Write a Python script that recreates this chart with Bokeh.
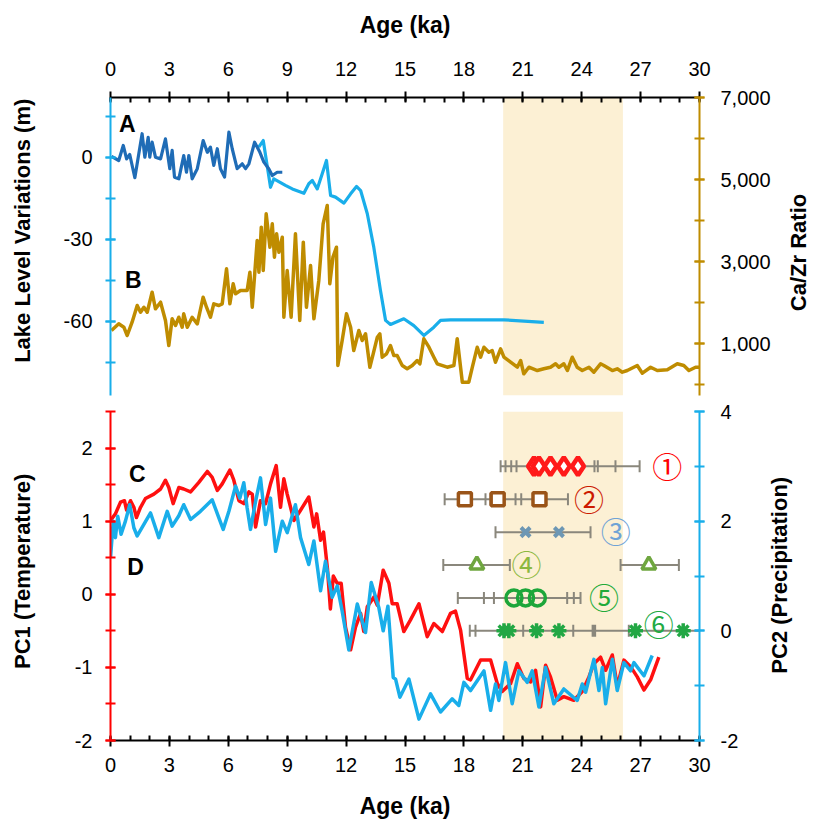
import math
from bokeh.plotting import figure
from bokeh.models import Range1d, LinearAxis, FixedTicker, Label, BoxAnnotation, ColumnDataSource
from bokeh.layouts import column, row
from bokeh.embed import file_html
from bokeh.resources import INLINE
from bokeh.core.properties import value

# ---------------- data ----------------
# A: lake level variations (m), two reconstructions
lake_dark_age = [0.05, 0.42, 0.65, 0.82, 0.98, 1.24, 1.61, 1.75, 1.92, 2.0, 2.12, 2.29, 2.55, 2.80, 3.02, 3.14,
                 3.26, 3.48, 3.73, 3.87, 3.99, 4.16, 4.42, 4.72, 4.93, 5.09, 5.26, 5.44, 5.60, 5.81, 6.03, 6.20,
                 6.45, 6.71, 6.88, 7.05, 7.34, 7.61, 7.81, 8.06, 8.24, 8.49, 8.75]
lake_dark_m = [0.4, -1.1, 4.4, -0.5, 1.1, -7.4, 8.7, 0.1, 7.4, 0.1, 5.6, 0.1, -0.5, 6.8, -4.1, 2.6,
               -7.2, -7.8, 0.7, -5.4, 0.7, -7.8, -4.1, 6.2, 1.9, 3.8, -2.9, 3.2, -4.1, -7.2, 9.3, 3.2,
               -4.1, -2.3, -4.1, -2.3, 5.6, 1.9, -1.7, -4.1, -6.6, -5.4, -5.4]
lake_light_age = [7.55, 7.78, 8.15, 8.32, 8.91, 9.26, 9.85, 10.1, 10.28, 10.53, 10.78, 11.0, 11.21, 11.46,
                  11.89, 12.23, 12.53, 12.74, 13.08, 13.41, 13.75, 14.01, 14.26, 14.94, 15.45, 15.96, 16.47,
                  16.81, 17.32, 20.04, 22.07]
lake_light_m = [3.8, 6.2, -10.9, -7.8, -10.2, -11.5, -13.1, -9.6, -8.4, -11.5, -6.0, -1.1, -13.9, -14.5,
                -16.7, -13.3, -10.6, -12.1, -20.6, -32.8, -48.7, -59.6, -61.1, -59.0, -61.5, -65.1, -62.1,
                -59.6, -59.4, -59.4, -60.3]

# B: Ca/Zr ratio
cazr_age = [0.05, 0.42, 0.68, 0.85, 1.1, 1.36, 1.53, 1.70, 1.87, 2.12, 2.29, 2.55, 2.8, 2.97, 3.14, 3.31,
            3.48, 3.65, 3.73, 3.91, 4.16, 4.42, 4.72, 4.89, 5.09, 5.26, 5.52, 5.69, 5.91, 6.08, 6.25, 6.37,
            6.62, 6.96, 7.1, 7.22, 7.47, 7.56, 7.68, 7.78, 7.93, 8.12, 8.24, 8.35, 8.46, 8.58, 8.75, 8.83,
            9.0, 9.2, 9.42, 9.64, 9.82, 9.98, 10.19, 10.36, 10.61, 10.83, 11.04, 11.17, 11.33, 11.51, 11.58,
            11.80, 12.02, 12.23, 12.39, 12.65, 12.82, 12.99, 13.21, 13.38, 13.59, 13.72, 13.84, 14.06, 14.26,
            14.43, 14.6, 14.86, 15.11, 15.37, 15.62, 15.76, 15.96, 16.22, 16.47, 16.64, 17.15, 17.49, 17.66,
            17.92, 18.25, 18.43, 18.68, 18.85, 19.02, 19.27, 19.44, 19.61, 19.87, 20.04, 20.38, 20.72, 20.89,
            21.05, 21.31, 21.74, 22.07, 22.41, 22.67, 22.84, 23.09, 23.27, 23.52, 23.77, 24.03, 24.37, 24.62,
            24.96, 25.13, 25.56, 25.81, 26.07, 26.32, 26.83, 27.09, 27.51, 27.85, 28.36, 28.87, 29.2, 29.46,
            29.8, 30.0]
cazr_val = [1317, 1480, 1398, 1195, 1520, 1927, 1763, 1885, 1763, 2251, 1846, 2007, 1561, 951, 1602, 1439,
            1641, 1398, 1724, 1398, 1641, 1480, 2129, 1885, 1641, 1968, 1927, 1968, 2821, 1968, 2456, 2212,
            2293, 2293, 2740, 1885, 3512, 2740, 3837, 2780, 4163, 3349, 3919, 3105, 3675, 3227, 3593, 1641,
            2780, 1641, 3675, 1561, 3471, 1885, 2902, 1602, 2537, 3919, 4366, 2456, 3105, 3349, 463,
            1073, 1724, 1398, 829, 1317, 1073, 1236, 422, 749, 1154, 1236, 666, 749, 951,
            707, 707, 463, 383, 463, 585, 505, 1115, 910, 666, 505, 422, 463, 1115,
            56, 56, 422, 910, 666, 910, 788, 829, 544, 871, 666, 544, 422, 585,
            261, 422, 341, 383, 422, 505, 422, 505, 341, 666, 422, 341, 422, 300,
            505, 463, 341, 383, 300, 341, 463, 276, 422, 341, 359, 505, 463, 341,
            422, 422]

# C: PC1 (temperature)
pc1_age = [0.0, 0.25, 0.51, 0.71, 0.82, 1.02, 1.19, 1.32, 1.53, 1.78, 2.21, 2.55, 2.80, 2.97, 3.19, 3.48,
           3.73, 4.08, 4.50, 4.93, 5.18, 5.44, 5.69, 6.08, 6.28, 6.54, 6.79, 7.05, 7.22, 7.39, 7.64, 7.90,
           8.15, 8.44, 8.66, 8.83, 9.0, 9.34, 9.68, 10.1, 10.36, 10.5, 10.7, 10.85, 11.05, 11.2, 11.35,
           11.55, 11.75, 11.97, 12.23, 12.48, 12.74, 12.9, 13.08, 13.41, 13.59, 13.89, 14.18, 14.35, 14.6,
           14.94, 15.28, 15.71, 16.13, 16.47, 16.9, 17.32, 17.57, 17.83, 18.17, 18.34, 18.85, 19.36, 19.7,
           19.95, 20.38, 20.72, 21.05, 21.4, 21.65, 21.91, 22.16, 22.41, 22.76, 23.09, 23.6, 24.03, 24.37,
           24.62, 24.96, 25.22, 25.56, 25.81, 26.15, 26.49, 26.83, 27.17, 27.51, 27.93]
pc1_val = [1.01, 1.10, 1.26, 1.28, 1.15, 1.28, 1.19, 1.05, 1.19, 1.31, 1.37, 1.44, 1.56, 1.46, 1.24, 1.46,
           1.44, 1.40, 1.53, 1.68, 1.60, 1.42, 1.51, 1.70, 1.56, 1.28, 1.24, 1.40, 1.37, 0.92, 1.28, 1.24,
           1.51, 1.76, 1.19, 1.58, 1.37, 1.01, 1.15, 1.33, 0.92, 1.10, 0.74, 0.85, 0.35, -0.20, 0.25,
           0.15, 0.15, -0.45, -0.76, -0.45, -0.26, -0.51, -0.17, -0.04, -0.15, 0.33, 0.15, -0.13, -0.13,
           -0.51, -0.35, -0.13, -0.58, -0.40, -0.51, -0.26, -0.23, -0.49, -1.15, -1.17, -0.90, -0.90, -1.22,
           -1.33, -1.22, -0.95, -1.15, -1.20, -1.04, -1.54, -0.97, -1.13, -1.45, -1.40, -1.45, -1.33, -1.13,
           -0.95, -0.86, -1.04, -0.83, -1.26, -0.90, -0.99, -1.13, -1.31, -1.17, -0.86]

# D: PC2 (precipitation)
pc2_age = [0.0, 0.14, 0.25, 0.37, 0.54, 0.76, 0.98, 1.19, 1.36, 1.70, 2.04, 2.46, 2.89, 3.14, 3.48, 3.73,
           4.08, 4.58, 5.18, 5.52, 5.74, 6.03, 6.37, 6.59, 6.79, 6.96, 7.13, 7.39, 7.64, 7.90, 8.15, 8.41,
           8.75, 9.0, 9.42, 9.68, 10.1, 10.36, 10.7, 10.95, 11.29, 11.55, 11.8, 12.14, 12.57, 12.99, 13.28,
           13.67, 13.89, 14.13, 14.4, 14.52, 14.74, 15.2, 15.71, 16.3, 16.81, 17.4, 17.74, 18.0, 18.34,
           18.68, 19.02, 19.36, 19.61, 19.78, 20.12, 20.46, 20.8, 21.23, 21.48, 21.82, 22.16, 22.58, 23.09,
           23.77, 24.03, 24.2, 24.62, 24.88, 25.05, 25.22, 25.56, 25.81, 26.15, 26.49, 26.66, 27.17, 27.59]
pc2_val = [1.33, 2.0, 1.70, 2.09, 1.76, 2.0, 2.30, 1.88, 1.73, 1.94, 2.15, 1.70, 2.18, 1.91, 2.10, 2.30,
           2.03, 2.18, 2.39, 2.06, 1.85, 2.18, 2.64, 2.42, 2.70, 2.24, 1.85, 2.36, 2.79, 1.94, 2.42, 1.45,
           2.0, 1.79, 2.30, 1.70, 1.21, 1.64, 0.73, 1.27, 0.61, 0.82, 0.36, -0.35, 0.49, -0.03, 0.88,
           0.42, 0.0, 0.45, -0.85, -0.88, -1.21, -0.88, -1.61, -1.15, -1.48, -1.24, -1.36, -0.94, -1.09,
           -0.91, -0.73, -1.45, -0.97, -1.27, -0.58, -1.33, -0.73, -0.94, -0.73, -1.39, -0.67, -1.33, -1.06,
           -1.27, -0.97, -1.12, -0.52, -1.09, -0.67, -1.33, -0.52, -1.09, -0.58, -0.73, -0.58, -0.82, -0.45]

# Dated records (rows on the PC2 axis), error-bar ranges and tick marks
row_names = ["①", "②", "③", "④", "⑤", "⑥"]
row_levels = [3.0, 2.4, 1.8, 1.2, 0.6, 0.0]
row_label_age = [28.36, 24.37, 25.73, 21.19, 25.13, 27.93]
bar_row = [0, 1, 2, 3, 3, 4, 5]
bar_start = [19.87, 17.02, 19.61, 16.95, 25.98, 17.69, 18.3]
bar_end = [26.95, 23.3, 24.45, 20.34, 28.95, 23.94, 30.0]
tick_row = [0, 0, 0, 0, 0, 0, 0, 0, 1, 1, 1, 1, 1, 1, 2, 2, 3, 3, 3, 3, 4, 4, 4, 4, 4, 4, 5, 5, 5, 5, 5]
tick_age = [19.87, 20.12, 20.41, 20.68, 24.65, 24.82, 25.72, 26.95,
            17.02, 19.1, 19.35, 20.63, 20.92, 23.3,
            19.61, 24.45,
            16.95, 20.34, 25.98, 28.95,
            17.69, 19.02, 19.53, 23.26, 23.6, 23.94,
            18.3, 18.59, 21.02, 23.57, 26.4]
thick_tick_age = [24.62]
thick_tick_row = [5]
marker_ages = [
    [21.57, 21.82, 22.41, 23.09, 23.81],
    [18.05, 19.72, 21.85],
    [21.14, 22.84],
    [18.66, 27.42],
    [20.55, 21.14, 21.74],
    [20.04, 20.29, 21.7, 22.84, 26.74, 29.17],
]

band_start, band_end = 20.0, 26.1
x_ticks = [0, 3, 6, 9, 12, 15, 18, 21, 24, 27, 30]
x_minor = list(range(0, 31))
lake_ticks = [0, -30, -60]
lake_minor = [15, 0, -15, -30, -45, -60, -75]
cazr_ticks = [1000, 3000, 5000, 7000]
cazr_minor = [0, 1000, 2000, 3000, 4000, 5000, 6000, 7000]
pc1_ticks = [-2, -1, 0, 1, 2]
pc1_minor = [-2, -1.5, -1, -0.5, 0, 0.5, 1, 1.5, 2, 2.5]
pc2_ticks = [-2, 0, 2, 4]
pc2_minor = [-2, -1, 0, 1, 2, 3, 4]

# ---------------- styling / layout ----------------
FONT = "Liberation Sans"
C_LIGHT = "#19aeea"
C_DARK = "#1f6cb6"
C_BROWN = "#bf8c00"
C_RED = "#ff1010"
C_GRAY = "#8a877c"
BAND = "#fcf0d4"
PAGE_W = 816
STRIP_L = 40            # left strip with the left-hand titles
BORDER_L = 70           # frame starts at x = 110
FRAME_W = 589
TOP_W = BORDER_L + FRAME_W + 78
BOT_W = BORDER_L + FRAME_W + 56
TOP_H = 398             # frame 97..395
BOT_H = 424             # frame 411..740


def y_axis_style(ax, color, ticks, minor, labels, standoff=13):
    ax.ticker = FixedTicker(ticks=ticks, minor_ticks=minor)
    ax.major_label_overrides = labels
    ax.axis_line_color = color
    ax.axis_line_width = 2
    ax.major_tick_line_color = color
    ax.major_tick_line_width = 2
    ax.minor_tick_line_color = color
    ax.minor_tick_line_width = 2
    ax.major_tick_in = 5
    ax.major_tick_out = 5
    ax.minor_tick_in = 5
    ax.minor_tick_out = 5
    ax.major_label_text_font = FONT
    ax.major_label_text_font_size = "20px"
    ax.major_label_text_color = "black"
    ax.major_label_standoff = standoff


def x_axis_style(ax, standoff, title_standoff):
    ax.ticker = FixedTicker(ticks=x_ticks, minor_ticks=x_minor)
    ax.axis_line_color = "black"
    ax.axis_line_width = 2
    ax.major_tick_line_color = "black"
    ax.major_tick_line_width = 2
    ax.minor_tick_line_color = "black"
    ax.minor_tick_line_width = 2
    ax.major_tick_in = 4
    ax.major_tick_out = 6
    ax.minor_tick_in = 5
    ax.minor_tick_out = 0
    ax.major_label_text_font = FONT
    ax.major_label_text_font_size = "20px"
    ax.major_label_text_color = "black"
    ax.major_label_standoff = standoff
    ax.axis_label = "Age (ka)"
    ax.axis_label_text_font = FONT
    ax.axis_label_text_font_style = "bold"
    ax.axis_label_text_font_size = "23px"
    ax.axis_label_text_color = "black"
    ax.axis_label_standoff = title_standoff


def letter(p, text, x, y, rng="default"):
    p.add_layout(Label(x=x, y=y, text=text, y_range_name=rng, text_font=FONT, text_font_style="bold",
                       text_font_size="23px", text_align="center", text_baseline="middle", text_color="black"))


def base_fig(width, height, yr, xloc, top, bottom):
    p = figure(width=width, height=height, x_range=Range1d(0, 30), y_range=yr, output_backend="svg",
               toolbar_location=None, x_axis_location=xloc, y_axis_location="left",
               min_border_left=BORDER_L, min_border_right=width - BORDER_L - FRAME_W, min_border_top=top,
               min_border_bottom=bottom)
    p.outline_line_color = None
    p.xgrid.visible = False
    p.ygrid.visible = False
    p.background_fill_color = "white"
    p.border_fill_color = "white"
    p.add_layout(BoxAnnotation(left=band_start, right=band_end, fill_color=BAND, fill_alpha=1.0,
                               line_color=None, level="underlay"))
    return p


def title_fig(width, height, text, cx, cy):
    """Narrow strip carrying a vertical axis title that reads bottom to top."""
    t = figure(width=width, height=height, x_range=Range1d(0, width), y_range=Range1d(0, height),
               output_backend="svg", toolbar_location=None, x_axis_location=None, y_axis_location=None,
               min_border=0)
    t.outline_line_color = None
    t.xgrid.visible = False
    t.ygrid.visible = False
    t.text(x=[cx], y=[cy], text=[text], angle=math.pi / 2, text_font=value(FONT), text_font_style="bold",
           text_font_size="22px", text_color="black", text_align="center", text_baseline="middle")
    return t


# ---------------- top panel (A, B) ----------------
p1 = base_fig(TOP_W, TOP_H, Range1d(-87.08, 21.95), "above", 97, 3)
p1.extra_y_ranges = {"cazr": Range1d(-268, 7000)}
x_axis_style(p1.xaxis[0], 16, 21)
y_axis_style(p1.yaxis[0], C_LIGHT, lake_ticks, lake_minor, {t: str(t) for t in lake_ticks})
ax_r = LinearAxis(y_range_name="cazr")
y_axis_style(ax_r, C_BROWN, cazr_ticks, cazr_minor, {t: f"{t:,}" for t in cazr_ticks}, standoff=16)
p1.add_layout(ax_r, "right")

p1.line(lake_light_age, lake_light_m, line_color=C_LIGHT, line_width=3.2, line_join="round")
p1.line(lake_dark_age, lake_dark_m, line_color=C_DARK, line_width=3.2, line_join="round")
p1.line(cazr_age, cazr_val, line_color=C_BROWN, line_width=3.5, line_join="round", y_range_name="cazr")

letter(p1, "A", 0.85, 12.3)
letter(p1, "B", 1.16, 2537, "cazr")

# vertical-title anchors (page y), adjusted for the renderer's rotated-text placement
tl1 = title_fig(STRIP_L, TOP_H, "Lake Level Variations (m)", 22, TOP_H - 178)
tr1_w = PAGE_W - STRIP_L - TOP_W
tr1 = title_fig(tr1_w, TOP_H, "Ca/Zr Ratio", 798 - (STRIP_L + TOP_W), TOP_H - 207)

# ---------------- bottom panel (C, D) ----------------
p2 = base_fig(BOT_W, BOT_H, Range1d(-2, 2.5), "below", 13, 82)
p2.extra_y_ranges = {"pc2": Range1d(-2, 4)}
x_axis_style(p2.xaxis[0], 11, 18)
y_axis_style(p2.yaxis[0], "#ff0000", pc1_ticks, pc1_minor, {t: str(t) for t in pc1_ticks})
ax_r2 = LinearAxis(y_range_name="pc2")
y_axis_style(ax_r2, C_LIGHT, pc2_ticks, pc2_minor, {t: str(t) for t in pc2_ticks}, standoff=16)
p2.add_layout(ax_r2, "right")

p2.line(pc1_age, pc1_val, line_color=C_RED, line_width=3.5, line_join="round")
p2.line(pc2_age, pc2_val, line_color=C_LIGHT, line_width=3.5, line_join="round", y_range_name="pc2")

# error bars
bars = ColumnDataSource(dict(x0=bar_start, x1=bar_end, y=[row_levels[r] for r in bar_row]))
p2.segment(x0="x0", y0="y", x1="x1", y1="y", source=bars, line_color=C_GRAY, line_width=2, y_range_name="pc2")
ticks_src = ColumnDataSource(dict(x=tick_age, y=[row_levels[r] for r in tick_row]))
p2.scatter(x="x", y="y", source=ticks_src, marker="dash", angle=math.pi / 2, size=12, line_color=C_GRAY,
           line_width=2, y_range_name="pc2")
p2.scatter(x=thick_tick_age, y=[row_levels[r] for r in thick_tick_row], marker="dash", angle=math.pi / 2,
           size=12, line_color=C_GRAY, line_width=4.5, y_range_name="pc2")

marker_styles = [
    dict(marker="diamond", size=18, line_color="#ff1a1a", fill_color="white", line_width=4.5),
    dict(marker="square", size=13, line_color="#9a5418", fill_color="white", line_width=3.5),
    dict(marker="x", size=13, line_color="#6d97b4", line_width=4),
    dict(marker="triangle", size=14, line_color="#6fa63f", fill_color="white", line_width=3.5),
    dict(marker="circle", size=16, line_color="#1da63a", fill_color=None, line_width=3.5),
    dict(marker="asterisk", size=15, line_color="#22a744", line_width=3.5),
]
for i, ages in enumerate(marker_ages):
    p2.scatter(x=ages, y=[row_levels[i]] * len(ages), y_range_name="pc2", **marker_styles[i])

label_colors = ["#ff0000", "#cc1a00", "#6fa3d6", "#8cb83f", "#22aa3a", "#22aa44"]
label_y = [row_levels[i] + (0.15 if i == 5 else 0.03) for i in range(6)]
p2.text(x=row_label_age, y=label_y, text=row_names, text_color=label_colors, text_font=value("Noto Sans CJK JP"),
        text_font_size="30px", text_align="center", text_baseline="middle", y_range_name="pc2")

letter(p2, "C", 1.36, 1.65)
letter(p2, "D", 1.27, 0.37)

tl2 = title_fig(STRIP_L, BOT_H, "PC1 (Temperature)", 22, BOT_H - (604 - TOP_H))
tr2_w = PAGE_W - STRIP_L - BOT_W
tr2 = title_fig(tr2_w, BOT_H, "PC2 (Precipitation)", 779 - (STRIP_L + BOT_W), BOT_H - (609 - TOP_H))

layout = column(row(tl1, p1, tr1, spacing=0), row(tl2, p2, tr2, spacing=0), spacing=0)
open("out.html", "w").write(file_html(layout, INLINE))
